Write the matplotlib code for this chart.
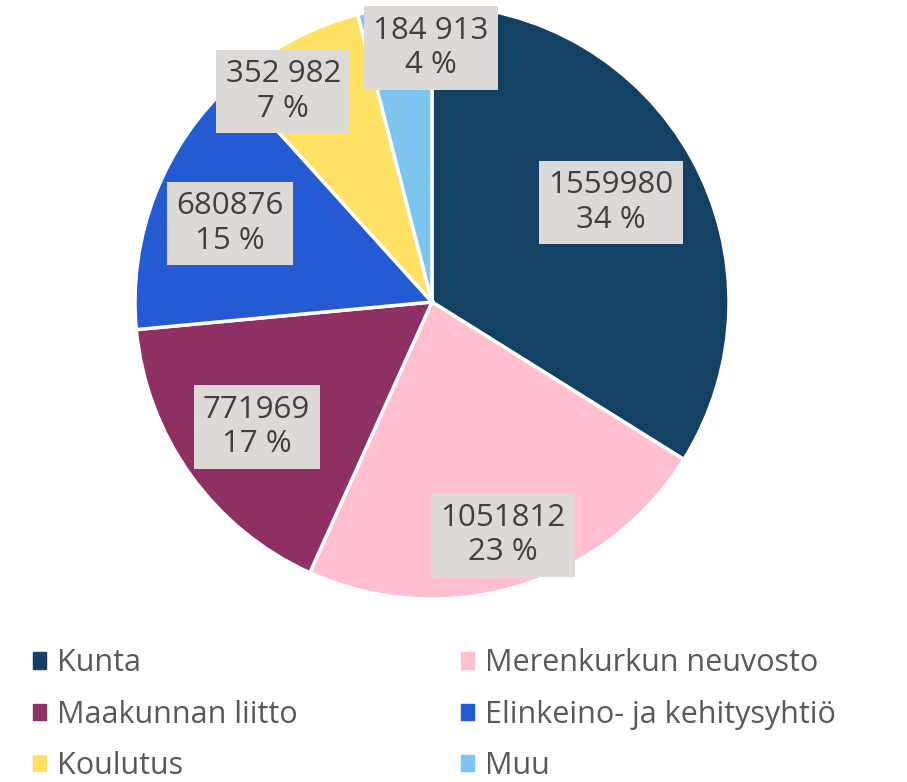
import numpy as np
import matplotlib.pyplot as plt
from matplotlib.patches import Patch

plt.rcParams['font.family'] = ['Open Sans', 'DejaVu Sans']

categories = ['Kunta', 'Merenkurkun neuvosto', 'Maakunnan liitto',
              'Elinkeino- ja kehitysyhtiö', 'Koulutus', 'Muu']
values = [1559980, 1051812, 771969, 680876, 352982, 184913]
value_labels = ['1559980', '1051812', '771969', '680876', '352 982', '184 913']
pct_labels = ['34 %', '23 %', '17 %', '15 %', '7 %', '4 %']
colors = ['#124163', '#FFBFCF', '#8E3063', '#245BD2', '#FFE264', '#7DC4EE']

# label placement (radius fraction, angle shift in degrees)
label_r = [0.69, 0.82, 0.725, 0.73, 0.867, 0.855]
label_shift = [0, 0, 0, 0, 7, -7]

fig = plt.figure(figsize=(9.07, 7.82), dpi=100)
ax = fig.add_axes([0.1488, 0.234, 0.655, 0.7596])
wedges, _ = ax.pie(values, colors=colors, startangle=90, counterclock=False,
                   radius=1, wedgeprops=dict(edgecolor='white', linewidth=2.5))
ax.set_xlim(-1, 1)
ax.set_ylim(-1, 1)
ax.set_aspect('equal')
ax.axis('off')

for i, w in enumerate(wedges):
    ang = np.deg2rad((w.theta1 + w.theta2) / 2 + label_shift[i])
    x = label_r[i] * np.cos(ang)
    y = label_r[i] * np.sin(ang)
    ax.text(x, y, value_labels[i] + '\n' + pct_labels[i], ha='center', va='center',
            fontsize=22.5, color='#404040', linespacing=1.2,
            bbox=dict(boxstyle='square,pad=0.3', fc='#DDD9D6', ec='none'))

handles = [Patch(color=c) for c in colors]
order = [0, 2, 4, 1, 3, 5]
fig.legend([handles[i] for i in order], [categories[i] for i in order],
           ncol=2, loc='upper left', bbox_to_anchor=(0.006, 0.206),
           frameon=False, fontsize=22, labelcolor='#595959',
           handlelength=0.43, handleheight=0.43, handletextpad=0.36,
           columnspacing=5.35, labelspacing=0.7)

fig.savefig('out.png', dpi=100)
